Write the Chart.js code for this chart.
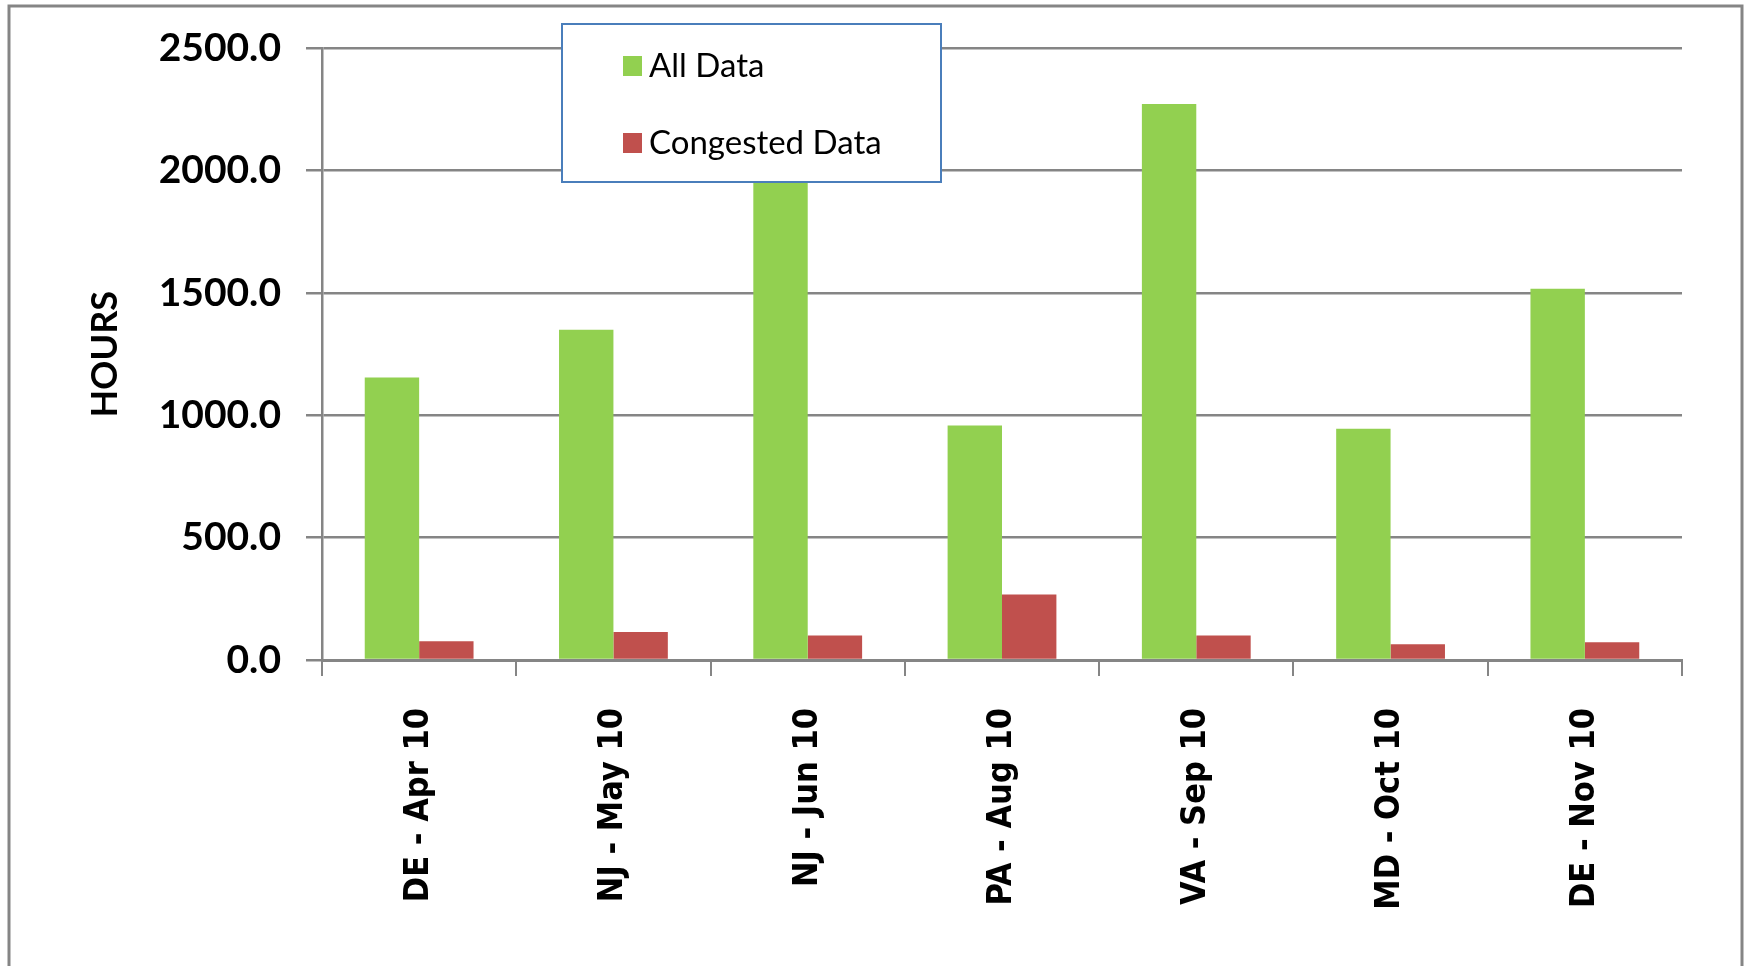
<!DOCTYPE html>
<html>
<head>
<meta charset="utf-8">
<script src="https://cdn.jsdelivr.net/npm/chart.js@4"></script>
<style>
    html, body { margin: 0; padding: 0; background: #ffffff; }
    canvas { display: block; }
</style>
</head>
<body>
<canvas id="hoursChart" width="1748" height="966"></canvas>
<script>
// Chart data
const categories = ['DE - Apr 10', 'NJ - May 10', 'NJ - Jun 10', 'PA - Aug 10', 'VA - Sep 10', 'MD - Oct 10', 'DE - Nov 10'];
const allData = [1155, 1350, 2050, 959, 2273, 945, 1518];
const congestedData = [77, 114, 100, 268, 100, 64, 73];
const seriesNames = ['All Data', 'Congested Data'];
const yTicks = [0, 500, 1000, 1500, 2000, 2500];

const gray = '#858585';

// Outer frame round the whole chart
const framePlugin = {
    id: 'frame',
    beforeDraw(chart) {
        const ctx = chart.ctx;
        ctx.save();
        ctx.strokeStyle = gray;
        ctx.lineWidth = 3;
        ctx.strokeRect(9, 6, 1733, 1000);
        ctx.restore();
    }
};

// Floating legend box drawn over the plot
const boxLegend = {
    id: 'boxLegend',
    afterDraw(chart) {
        const ctx = chart.ctx;
        ctx.save();
        ctx.fillStyle = '#ffffff';
        ctx.fillRect(562, 24, 379, 158);
        ctx.strokeStyle = '#4a7ebb';
        ctx.lineWidth = 2;
        ctx.strokeRect(562, 24, 379, 158);
        ctx.font = '33px Lato';
        ctx.textBaseline = 'middle';
        chart.data.datasets.forEach(function(ds, i) {
            const y = 66 + i * 77;
            ctx.fillStyle = ds.backgroundColor;
            ctx.fillRect(623, y - 10, 19, 20);
            ctx.fillStyle = '#000000';
            ctx.fillText(ds.label, 649, y);
        });
        ctx.restore();
    }
};

const ctx = document.getElementById('hoursChart').getContext('2d');
new Chart(ctx, {
    type: 'bar',
    data: {
        labels: categories,
        datasets: [
            {
                label: seriesNames[0],
                data: allData,
                backgroundColor: '#92D050',
                borderWidth: 0,
                categoryPercentage: 0.56,
                barPercentage: 1.0
            },
            {
                label: seriesNames[1],
                data: congestedData,
                backgroundColor: '#C0504D',
                borderWidth: 0,
                categoryPercentage: 0.56,
                barPercentage: 1.0
            }
        ]
    },
    options: {
        responsive: false,
        animation: false,
        layout: {
            padding: { left: 10, top: 47, right: 66, bottom: 0 }
        },
        plugins: {
            legend: { display: false },
            tooltip: { enabled: false }
        },
        scales: {
            x: {
                grid: {
                    display: true,
                    drawOnChartArea: false,
                    drawTicks: true,
                    tickLength: 16,
                    color: gray,
                    lineWidth: 2,
                    offset: true
                },
                border: { display: true, color: gray, width: 3 },
                ticks: {
                    minRotation: 90,
                    maxRotation: 90,
                    padding: 32,
                    color: '#000000',
                    font: { family: "'DejaVu Sans Condensed', 'DejaVu Sans'", weight: 'bold', size: 34 }
                },
                afterFit: function(scale) {
                    scale.height = 306;
                }
            },
            y: {
                min: 0,
                max: 2500,
                afterBuildTicks: function(scale) {
                    scale.ticks = yTicks.map(function(v) { return { value: v }; });
                },
                grid: {
                    color: gray,
                    lineWidth: 2.5,
                    drawTicks: true,
                    tickLength: 16
                },
                border: { display: true, color: gray, width: 2.5 },
                ticks: {
                    padding: 25,
                    color: '#000000',
                    font: { family: 'Lato', weight: 'bold', size: 39 },
                    callback: function(value) {
                        return Number(value).toFixed(1);
                    }
                },
                title: {
                    display: true,
                    text: 'HOURS',
                    color: '#000000',
                    font: { family: 'Lato', weight: 'bold', size: 36 },
                    padding: { top: 74, bottom: 0 }
                },
                afterFit: function(scale) {
                    scale.width = 312;
                }
            }
        }
    },
    plugins: [framePlugin, boxLegend]
});
</script>
</body>
</html>
